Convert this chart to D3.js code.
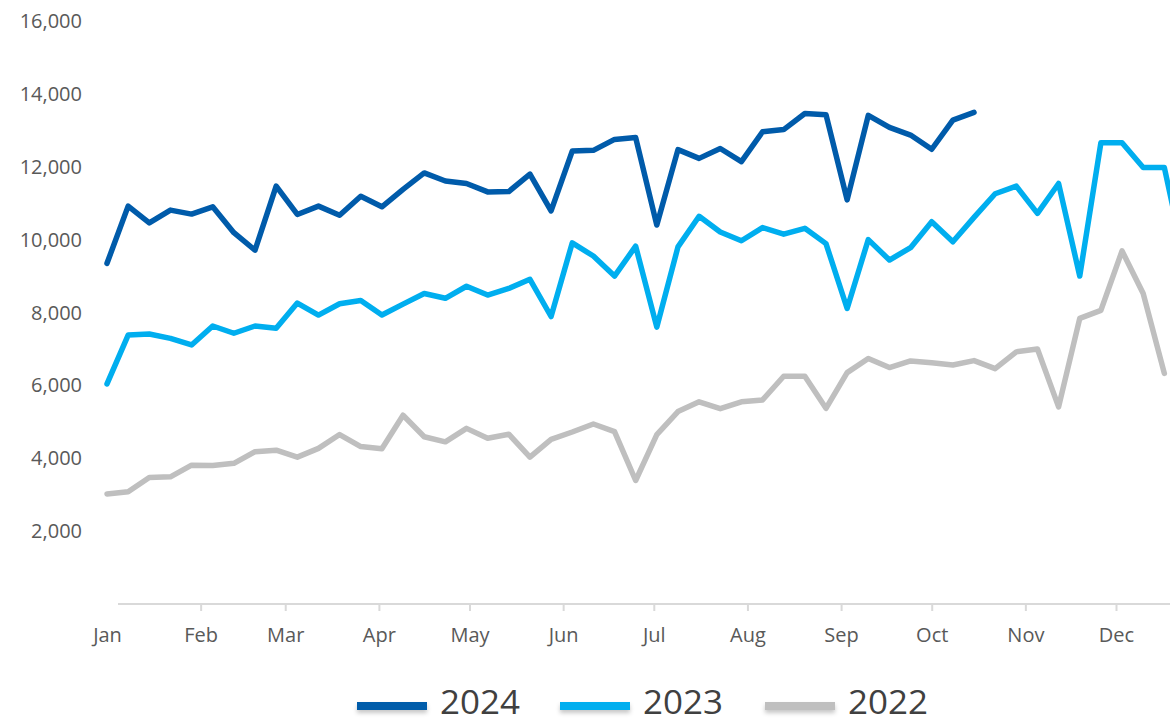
<!DOCTYPE html>
<html>
<head>
<meta charset="utf-8">
<script src="https://cdn.jsdelivr.net/npm/d3@7"></script>
<style>
  html, body { margin: 0; padding: 0; background: #fff; }
  svg { display: block; }
</style>
</head>
<body>
<svg id="chart" width="1170" height="725"></svg>
<script>
// ---- data ----
const seriesNames = ["2024", "2023", "2022"];
const monthLabels = ["Jan","Feb","Mar","Apr","May","Jun","Jul","Aug","Sep","Oct","Nov","Dec"];
const yTicks = [2000, 4000, 6000, 8000, 10000, 12000, 14000, 16000];

const values2024 = [9350, 10920, 10460, 10810, 10700, 10900, 10190, 9710, 11470, 10690,
  10920, 10670, 11190, 10900, 11380, 11830, 11610, 11540, 11310, 11320,
  11800, 10790, 12430, 12450, 12750, 12800, 10400, 12470, 12230, 12500,
  12140, 12960, 13020, 13460, 13430, 11090, 13410, 13080, 12870, 12480,
  13280, 13490];

const values2023 = [6040, 7380, 7410, 7290, 7110, 7630, 7430, 7630, 7570, 8260,
  7930, 8240, 8330, 7930, 8230, 8520, 8390, 8720, 8480, 8660,
  8910, 7890, 9910, 9550, 9000, 9820, 7600, 9800, 10640, 10210,
  9970, 10330, 10150, 10310, 9890, 8110, 10000, 9440, 9780, 10490,
  9940, 10610, 11260, 11470, 10720, 11540, 9000, 12660, 12660, 11980,
  11980, 9300];

const values2022 = [3020, 3080, 3470, 3490, 3810, 3800, 3860, 4180, 4220, 4030,
  4270, 4650, 4320, 4260, 5180, 4590, 4450, 4820, 4550, 4660,
  4030, 4520, 4720, 4940, 4730, 3390, 4650, 5280, 5550, 5360,
  5550, 5600, 6250, 6250, 5370, 6350, 6740, 6490, 6670, 6620,
  6560, 6680, 6460, 6920, 7000, 5410, 7840, 8060, 9690, 8520,
  6330];

const seriesValues = [values2024, values2023, values2022];
const seriesColors = ["#005BAA", "#00AEEF", "#BFBFBF"];

// ---- layout ----
const svg = d3.select("#chart");
const W = 1170, H = 725;

const x = d3.scaleTime()
  .domain([new Date(2023, 0, 1), new Date(2023, 11, 1)])
  .range([107, 1116]);
const y = d3.scaleLinear().domain([0, 16000]).range([604, 21]);

const weekDate = i => d3.timeDay.offset(new Date(2023, 0, 1), i * 7);

// y labels
svg.append("g").selectAll("text")
  .data(yTicks).join("text")
  .attr("x", 82)
  .attr("y", d => y(d))
  .attr("dy", "0.35em")
  .attr("text-anchor", "end")
  .attr("font-family", "'Open Sans', sans-serif")
  .attr("font-size", 20)
  .attr("fill", "#595959")
  .text(d => d3.format(",")(d));

// x axis
const months = monthLabels.map((m, i) => new Date(2023, i, 1));
const xAxis = d3.axisBottom(x)
  .tickValues(months)
  .tickFormat((d, i) => monthLabels[i])
  .tickSizeInner(7)
  .tickSizeOuter(0)
  .tickPadding(17);
const gx = svg.append("g").attr("transform", "translate(0,604)").call(xAxis);
gx.select(".domain").remove();
gx.selectAll(".tick line").attr("stroke", "#D9D9D9").attr("stroke-width", 2)
  .filter((d, i) => i === 0).remove();
gx.selectAll(".tick text")
  .attr("font-family", "'Open Sans', sans-serif")
  .attr("font-size", 20)
  .attr("fill", "#595959");
gx.append("line")
  .attr("x1", 118).attr("x2", W)
  .attr("y1", 0).attr("y2", 0)
  .attr("stroke", "#D9D9D9").attr("stroke-width", 2);

// lines (draw 2022 first, then 2023, then 2024 on top)
const line = d3.line()
  .x((d, i) => x(weekDate(i)))
  .y(d => y(d));

[2, 1, 0].forEach(k => {
  svg.append("path")
    .datum(seriesValues[k])
    .attr("fill", "none")
    .attr("stroke", seriesColors[k])
    .attr("stroke-width", 5.5)
    .attr("stroke-linejoin", "round")
    .attr("stroke-linecap", "round")
    .attr("d", line);
});

// legend
const defs = svg.append("defs");
const f = defs.append("filter").attr("id", "shadow")
  .attr("filterUnits", "userSpaceOnUse")
  .attr("x", 300).attr("y", 690).attr("width", 700).attr("height", 35);
f.append("feDropShadow").attr("dx", 0).attr("dy", 3).attr("stdDeviation", 2)
  .attr("flood-color", "#000").attr("flood-opacity", 0.22);

const legendX = [357, 560, 765];
const leg = svg.append("g");
seriesNames.forEach((name, k) => {
  leg.append("rect")
    .attr("x", legendX[k]).attr("y", 702)
    .attr("width", 70).attr("height", 8)
    .attr("fill", seriesColors[k])
    .attr("filter", "url(#shadow)");
  leg.append("text")
    .attr("x", legendX[k] + 83)
    .attr("y", 714)
    .attr("font-family", "'Open Sans', sans-serif")
    .attr("font-size", 33)
    .attr("fill", "#404040")
    .attr("textLength", 80)
    .attr("lengthAdjust", "spacingAndGlyphs")
    .text(name);
});
</script>
</body>
</html>
